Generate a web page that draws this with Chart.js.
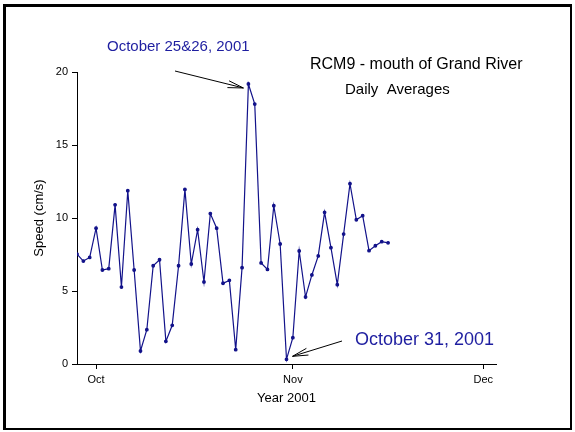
<!DOCTYPE html>
<html lang="en">
<head>
  <meta charset="UTF-8" />
  <title>RCM9 - mouth of Grand River</title>
  <script src="https://cdn.jsdelivr.net/npm/chart.js"></script>
  <style>
    html, body { margin: 0; padding: 0; background: #fff; }
    #wrap { width: 575px; height: 432px; }
  </style>
</head>
<body>
  <div id="wrap"><canvas id="chart" width="575" height="432"></canvas></div>

  <script>
    // daily averages, first value is Sep 28 2001 (day -3, Oct 1 = day 0)
    const firstDay = -3;
    const speed = [
      7.53, 7.05, 7.3, 9.3, 6.44, 6.53, 10.9, 5.27, 11.87, 6.44,
      0.89, 2.35, 6.73, 7.14, 1.55, 2.65, 6.73, 11.96, 6.85, 9.2,
      5.62, 10.3, 9.3, 5.53, 5.73, 0.98, 6.6, 19.18, 17.8, 6.92,
      6.48, 10.84, 8.22, 0.32, 1.8, 7.74, 4.59, 6.1, 7.4, 10.39,
      7.97, 5.43, 8.9, 12.35, 9.88, 10.16, 7.76, 8.1, 8.38, 8.3
    ];
    const tickDays = [0, 31, 61];
    const tickLabels = ['Oct', 'Nov', 'Dec'];
    const yTicks = [0, 5, 10, 15, 20];

    const LINE = '#12128a';
    const BLUE = '#1e1ea0';
    const FONT = '"Liberation Sans", Arial, sans-serif';

    const points = speed.map((v, i) => ({ x: firstDay + i, y: v }));

    function arrow(ctx, x0, y0, x1, y1) {
      const a = Math.atan2(y1 - y0, x1 - x0);
      const len = 16, spread = 0.22;
      ctx.beginPath();
      ctx.moveTo(x0, y0); ctx.lineTo(x1, y1);
      ctx.moveTo(x1, y1); ctx.lineTo(x1 - len * Math.cos(a - spread), y1 - len * Math.sin(a - spread));
      ctx.moveTo(x1, y1); ctx.lineTo(x1 - len * Math.cos(a + spread), y1 - len * Math.sin(a + spread));
      ctx.stroke();
    }

    const notes = {
      id: 'notes',
      afterDraw(chart) {
        const ctx = chart.ctx;
        const xs = chart.scales.x, ys = chart.scales.y;
        ctx.save();
        // outer frame, a bit heavier on the top and left
        ctx.fillStyle = '#000';
        ctx.fillRect(3, 4, 569, 3);
        ctx.fillRect(3, 4, 3, 426);
        ctx.fillRect(570, 4, 2, 426);
        ctx.fillRect(3, 428, 569, 2);

        ctx.textBaseline = 'middle';
        ctx.textAlign = 'left';
        ctx.font = '16px ' + FONT;
        ctx.fillText('RCM9 - mouth of Grand River', 310, 65);
        ctx.font = '15px ' + FONT;
        ctx.fillText('Daily  Averages', 345, 90);

        ctx.fillStyle = BLUE;
        ctx.fillText('October 25&26, 2001', 107, 47);
        ctx.font = '18px ' + FONT;
        ctx.fillText('October 31, 2001', 355, 340);

        // arrows pointing at Oct 25 peak and Oct 31 low
        ctx.strokeStyle = '#000';
        ctx.lineWidth = 1;
        const p1x = xs.getPixelForValue(24), p1y = ys.getPixelForValue(speed[27]);
        arrow(ctx, 175, 71, p1x - 5, p1y + 4);
        const p2x = xs.getPixelForValue(30), p2y = ys.getPixelForValue(speed[33]);
        arrow(ctx, 342, 341, p2x + 6, p2y - 3);
        ctx.restore();
      }
    };

    new Chart(document.getElementById('chart'), {
      type: 'line',
      data: {
        datasets: [{
          data: points,
          borderColor: LINE,
          backgroundColor: LINE,
          borderWidth: 1.2,
          pointRadius: 1.3,
          pointHoverRadius: 1.3,
          tension: 0
        }]
      },
      options: {
        responsive: false,
        animation: false,
        layout: { padding: { left: 0, right: 79, top: 72, bottom: 0 } },
        plugins: { legend: { display: false }, tooltip: { enabled: false } },
        scales: {
          x: {
            type: 'linear',
            min: -3, max: 63,
            afterBuildTicks: s => { s.ticks = tickDays.map(v => ({ value: v })); },
            afterFit: s => { s.height = 68; },
            ticks: {
              autoSkip: false, maxRotation: 0, color: '#000', padding: 4,
              font: { family: FONT, size: 11 },
              callback: v => tickLabels[tickDays.indexOf(v)]
            },
            grid: { drawOnChartArea: false, drawTicks: true, tickLength: 5, color: '#000' },
            border: { display: true, color: '#000', width: 1 },
            title: {
              display: true, text: 'Year 2001', color: '#000',
              padding: { top: 0, bottom: 26 },
              font: { family: FONT, size: 13 }
            }
          },
          y: {
            min: 0, max: 20,
            afterBuildTicks: s => { s.ticks = yTicks.map(v => ({ value: v })); },
            afterFit: s => { s.width = 77; },
            ticks: {
              color: '#000', padding: 4,
              font: { family: FONT, size: 11 }
            },
            grid: { drawOnChartArea: false, drawTicks: true, tickLength: 5, color: '#000' },
            border: { display: true, color: '#000', width: 1 },
            title: {
              display: true, text: 'Speed (cm/s)', color: '#000',
              padding: { top: 32, bottom: 0 },
              font: { family: FONT, size: 13 }
            }
          }
        }
      },
      plugins: [notes]
    });
  </script>
</body>
</html>
